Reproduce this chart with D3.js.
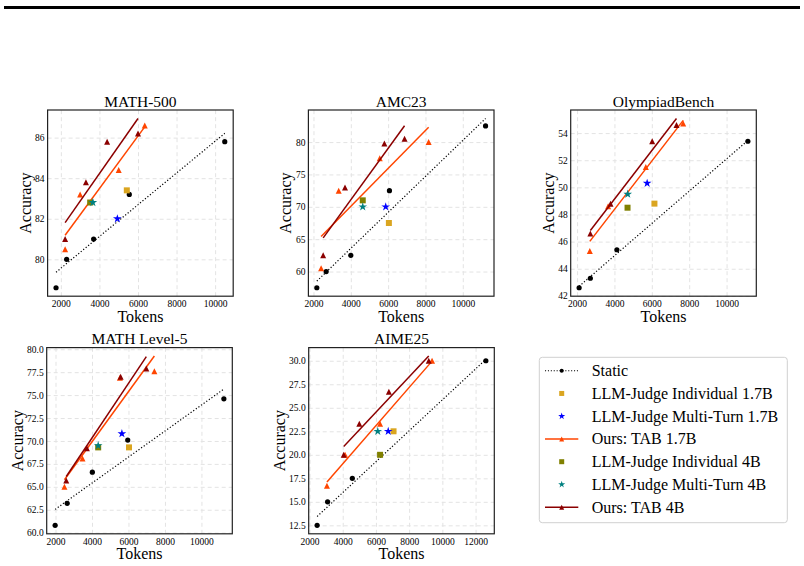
<!DOCTYPE html>
<html><head><meta charset="utf-8">
<script src="https://cdn.jsdelivr.net/npm/d3@7"></script>
<style>
body{margin:0;background:#fff}
svg{display:block}
text{font-family:"Liberation Serif","Times New Roman",serif;fill:#000}
</style>
</head><body>
<svg id="chart" width="804" height="566"></svg>
<script>
// ---------------- data ----------------
const benchmarks = ["MATH-500", "AMC23", "OlympiadBench", "MATH Level-5", "AIME25"];

const xTicks = [
  [2000, 4000, 6000, 8000, 10000],
  [2000, 4000, 6000, 8000, 10000],
  [2000, 4000, 6000, 8000, 10000],
  [2000, 4000, 6000, 8000, 10000],
  [2000, 4000, 6000, 8000, 10000, 12000]
];
const yTicks = [
  [80, 82, 84, 86],
  [60, 65, 70, 75, 80],
  [42, 44, 46, 48, 50, 52, 54],
  [60, 62.5, 65, 67.5, 70, 72.5, 75, 77.5, 80],
  [12.5, 15, 17.5, 20, 22.5, 25, 27.5, 30]
];
const yTickDecimals = [0, 0, 0, 1, 1];

// Static
const staticTokens = [
  [1750, 2300, 3700, 5550, 10500],
  [2180, 2680, 4000, 6070, 11220],
  [2110, 2710, 4130, 11140],
  [1980, 2640, 4020, 5960, 11230],
  [2460, 3090, 4580, 12620]
];
const staticAcc = [
  [78.6, 80.0, 81.0, 83.2, 85.8],
  [57.5, 60.0, 62.5, 72.5, 82.5],
  [42.6, 43.3, 45.4, 53.4],
  [60.8, 63.2, 66.6, 70.1, 74.6],
  [12.5, 15.0, 17.5, 30.0]
];
// LLM-Judge Individual 1.7B
const judgeInd17Tokens = [5420, 6040, 6140, 6030, 7060];
const judgeInd17Acc    = [83.4, 67.5, 48.8, 69.3, 22.5];
// LLM-Judge Multi-Turn 1.7B
const judgeMT17Tokens = [4930, 5870, 5750, 5640, 6740];
const judgeMT17Acc    = [82.0, 70.0, 50.3, 70.8, 22.5];
// Ours: TAB 1.7B
const tab17Tokens = [
  [2220, 3000, 5000, 6350],
  [2410, 3350, 5550, 8170],
  [2680, 3660, 5680, 7680],
  [2490, 3480, 5530, 7420],
  [3050, 4140, 6250, 9380]
];
const tab17Acc = [
  [80.5, 83.2, 84.4, 86.6],
  [60.5, 72.5, 77.5, 80.0],
  [45.3, 48.6, 51.5, 54.7],
  [65.0, 68.1, 76.9, 77.6],
  [16.7, 20.0, 23.3, 30.0]
];
// LLM-Judge Individual 4B
const judgeInd4Tokens = [3520, 4640, 4700, 4340, 6250];
const judgeInd4Acc    = [82.8, 71.0, 48.5, 69.3, 20.0];
// LLM-Judge Multi-Turn 4B
const judgeMT4Tokens = [3660, 4640, 4710, 4340, 6110];
const judgeMT4Acc    = [82.8, 70.0, 49.5, 69.5, 22.5];
// Ours: TAB 4B
const tab4Tokens = [
  [2220, 3300, 4400, 6000],
  [2520, 3690, 5800, 6880],
  [2710, 3790, 6020, 7320],
  [2590, 3720, 5570, 6980],
  [4060, 5000, 6780, 9180]
];
const tab4Acc = [
  [81.0, 83.8, 85.8, 86.2],
  [62.5, 73.0, 79.8, 80.5],
  [46.6, 48.8, 53.4, 54.6],
  [65.7, 69.2, 77.0, 77.9],
  [20.0, 23.3, 26.7, 30.0]
];

const seriesNames = ["Static", "LLM-Judge Individual 1.7B", "LLM-Judge Multi-Turn 1.7B",
  "Ours: TAB 1.7B", "LLM-Judge Individual 4B", "LLM-Judge Multi-Turn 4B", "Ours: TAB 4B"];

// ---------------- styles / layout ----------------
const C = {
  static: "#000000", ind17: "#DAA520", mt17: "#0000FF", tab17: "#FF4500",
  ind4: "#808000", mt4: "#008080", tab4: "#8B0000"
};
const panelPos = [[47.6, 110], [308.4, 110], [570.7, 110], [46.7, 347.6], [308.7, 347.6]];
const PW = 185.6, PH = 186.2;

const svg = d3.select("#chart");

// top rule
svg.append("rect").attr("x", 4).attr("y", 6).attr("width", 796).attr("height", 3).attr("fill", "#000");

// marker path generators (centered like matplotlib)
function markerPath(type, s) {
  const h = s / 2;
  if (type === "tri") return `M0,${-h}L${h},${h}L${-h},${h}Z`;
  if (type === "square") return `M${-h},${-h}H${h}V${h}H${-h}Z`;
  if (type === "circle") return d3.symbol(d3.symbolCircle, Math.PI * h * h)();
  if (type === "star") return d3.symbol(d3.symbolStar, s * s * 0.42)();
}

function fit(xs, ys) {
  const mx = d3.mean(xs), my = d3.mean(ys);
  let sxy = 0, sxx = 0;
  xs.forEach((x, k) => { sxy += (x - mx) * (ys[k] - my); sxx += (x - mx) * (x - mx); });
  const b = sxy / sxx, a = my - b * mx;
  const x0 = d3.min(xs), x1 = d3.max(xs);
  return [[x0, a + b * x0], [x1, a + b * x1]];
}

benchmarks.forEach((name, i) => {
  const [px, py] = panelPos[i];
  const g = svg.append("g").attr("transform", `translate(${px},${py})`);

  const fStatic = fit(staticTokens[i], staticAcc[i]);
  const f17 = fit(tab17Tokens[i], tab17Acc[i]);
  const f4 = fit(tab4Tokens[i], tab4Acc[i]);

  const allX = [].concat(staticTokens[i], tab17Tokens[i], tab4Tokens[i],
    [judgeInd17Tokens[i], judgeMT17Tokens[i], judgeInd4Tokens[i], judgeMT4Tokens[i]],
    fStatic.map(d => d[0]), f17.map(d => d[0]), f4.map(d => d[0]));
  const allY = [].concat(staticAcc[i], tab17Acc[i], tab4Acc[i],
    [judgeInd17Acc[i], judgeMT17Acc[i], judgeInd4Acc[i], judgeMT4Acc[i]],
    fStatic.map(d => d[1]), f17.map(d => d[1]), f4.map(d => d[1]));
  const [xa, xb] = d3.extent(allX), [ya, yb] = d3.extent(allY);
  const xm = (xb - xa) * 0.05, ym = (yb - ya) * 0.05;

  const x = d3.scaleLinear().domain([xa - xm, xb + xm]).range([0, PW]);
  const y = d3.scaleLinear().domain([ya - ym, yb + ym]).range([PH, 0]);

  // grid
  g.append("g").attr("transform", `translate(0,${PH})`)
    .call(d3.axisBottom(x).tickValues(xTicks[i]).tickSize(-PH).tickFormat(""))
    .call(s => s.select(".domain").remove())
    .call(s => s.selectAll("line").attr("stroke", "#e3e3e3").attr("stroke-width", 1).attr("stroke-dasharray", "4,3"));
  g.append("g")
    .call(d3.axisLeft(y).tickValues(yTicks[i]).tickSize(-PW).tickFormat(""))
    .call(s => s.select(".domain").remove())
    .call(s => s.selectAll("line").attr("stroke", "#e3e3e3").attr("stroke-width", 1).attr("stroke-dasharray", "4,3"));

  // tick labels
  g.append("g").attr("transform", `translate(0,${PH})`)
    .call(d3.axisBottom(x).tickValues(xTicks[i]).tickSize(0).tickPadding(4).tickFormat(d3.format("d")))
    .call(s => s.select(".domain").remove())
    .call(s => s.selectAll("text").attr("font-size", "9.5px").attr("font-family", "Liberation Serif").attr("fill", "#222"));
  const yAx = g.append("g")
    .call(d3.axisLeft(y).tickValues(yTicks[i]).tickSize(0).tickPadding(3)
      .tickFormat(d3.format(`.${yTickDecimals[i]}f`)))
    .call(s => s.select(".domain").remove())
    .call(s => s.selectAll("text").attr("font-size", "9.5px").attr("font-family", "Liberation Serif").attr("fill", "#222"));
  let maxW = 0;
  yAx.selectAll("text").each(function () { maxW = Math.max(maxW, this.getComputedTextLength()); });

  const line = d3.line().x(d => x(d[0])).y(d => y(d[1]));
  const pts = (xs, ys) => xs.map((v, k) => [v, ys[k]]);
  const drawPts = (data, type, size, color) => {
    g.append("g").selectAll("path").data(data).join("path")
      .attr("transform", d => `translate(${x(d[0])},${y(d[1])})`)
      .attr("d", markerPath(type, size)).attr("fill", color);
  };

  // Static
  g.append("path").attr("d", line(fStatic)).attr("fill", "none").attr("stroke", C.static)
    .attr("stroke-width", 1.2).attr("stroke-dasharray", "1.2,2");
  drawPts(pts(staticTokens[i], staticAcc[i]), "circle", 5.2, C.static);
  // LLM-Judge Individual 1.7B
  drawPts([[judgeInd17Tokens[i], judgeInd17Acc[i]]], "square", 6, C.ind17);
  // LLM-Judge Multi-Turn 1.7B
  drawPts([[judgeMT17Tokens[i], judgeMT17Acc[i]]], "star", 7.5, C.mt17);
  // TAB 1.7B
  g.append("path").attr("d", line(f17)).attr("fill", "none").attr("stroke", C.tab17).attr("stroke-width", 1.5);
  drawPts(pts(tab17Tokens[i], tab17Acc[i]), "tri", 6, C.tab17);
  // LLM-Judge Individual 4B
  drawPts([[judgeInd4Tokens[i], judgeInd4Acc[i]]], "square", 6, C.ind4);
  // LLM-Judge Multi-Turn 4B
  drawPts([[judgeMT4Tokens[i], judgeMT4Acc[i]]], "star", 7.5, C.mt4);
  // TAB 4B
  g.append("path").attr("d", line(f4)).attr("fill", "none").attr("stroke", C.tab4).attr("stroke-width", 1.5);
  drawPts(pts(tab4Tokens[i], tab4Acc[i]), "tri", 6, C.tab4);

  // frame
  g.append("rect").attr("width", PW).attr("height", PH).attr("fill", "none")
    .attr("stroke", "#222").attr("stroke-width", 1.2);

  // labels
  g.append("text").attr("x", PW / 2).attr("y", -3.5).attr("text-anchor", "middle")
    .attr("font-size", "15.5px").text(name);
  g.append("text").attr("x", PW / 2).attr("y", PH + 25.5).attr("text-anchor", "middle")
    .attr("font-size", "16px").text("Tokens");
  const labX = -(3 + maxW + 4.5);
  g.append("text").attr("transform", `translate(${labX},${PH / 2}) rotate(-90)`).attr("text-anchor", "middle")
    .attr("font-size", "16px").text("Accuracy");
});

// ---------------- legend ----------------
const lg = svg.append("g").attr("transform", "translate(539.3,357.3)");
lg.append("rect").attr("width", 248).attr("height", 165.4).attr("rx", 3)
  .attr("fill", "#fff").attr("stroke", "#d0d0d0").attr("stroke-width", 1);
const legendSpec = [
  { line: "dot", marker: "circle", color: C.static, size: 4 },
  { line: null, marker: "square", color: C.ind17, size: 5 },
  { line: null, marker: "star", color: C.mt17, size: 6 },
  { line: "solid", marker: "tri", color: C.tab17, size: 5 },
  { line: null, marker: "square", color: C.ind4, size: 5 },
  { line: null, marker: "star", color: C.mt4, size: 6 },
  { line: "solid", marker: "tri", color: C.tab4, size: 5 }
];
seriesNames.forEach((nm, k) => {
  const yy = 13.4 + k * 22.75;
  const row = lg.append("g").attr("transform", `translate(0,${yy})`);
  const sp = legendSpec[k];
  if (sp.line) {
    row.append("line").attr("x1", 5.7).attr("x2", 39).attr("y1", 0).attr("y2", 0)
      .attr("stroke", sp.color).attr("stroke-width", sp.line === "dot" ? 1.1 : 1.5)
      .attr("stroke-dasharray", sp.line === "dot" ? "1.1,1.8" : null);
  }
  row.append("path").attr("transform", "translate(22.4,0)").attr("d", markerPath(sp.marker, sp.size)).attr("fill", sp.color);
  row.append("text").attr("x", 52.4).attr("y", 5.3).attr("font-size", "16px").text(nm);
});
</script>
</body></html>
